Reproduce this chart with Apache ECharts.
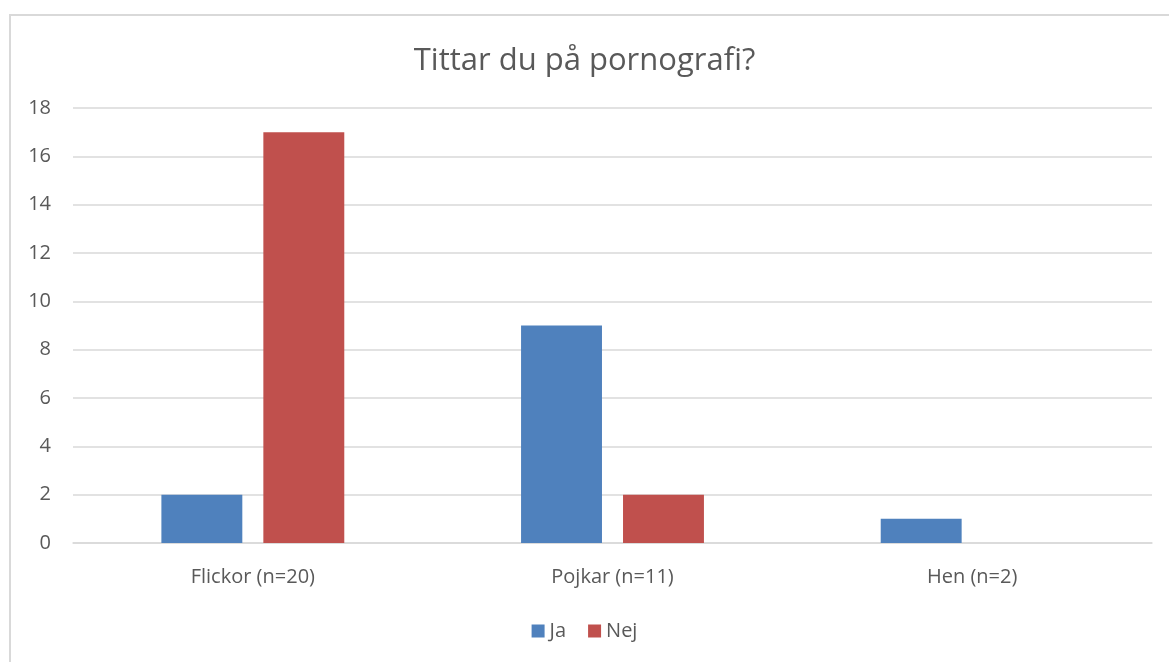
<!DOCTYPE html>
<html>
<head>
<meta charset="utf-8">
<script src="https://cdn.jsdelivr.net/npm/echarts@6/dist/echarts.min.js"></script>
<style>
  html, body { margin: 0; padding: 0; background: #fff; }
  #chart { width: 1169px; height: 662px; }
</style>
</head>
<body>
<div id="chart"></div>
<script>
const categories = ['Flickor (n=20)', 'Pojkar (n=11)', 'Hen (n=2)']
const jaValues = [2, 9, 1]
const nejValues = [17, 2, 0]

const chart = echarts.init(document.getElementById('chart'))
const font = 'Open Sans'

const option = {
  animation: false,
  graphic: [{
    type: 'rect',
    shape: { x: 10, y: 15, width: 1200, height: 700 },
    style: { fill: 'none', stroke: '#d9d9d9', lineWidth: 2 }
  }],
  title: {
    text: 'Tittar du på pornografi?',
    left: 'center',
    top: 41,
    textStyle: { fontFamily: font, fontSize: 31, fontWeight: 'normal', color: '#595959' }
  },
  legend: {
    bottom: 16,
    left: 'center',
    itemWidth: 13,
    itemHeight: 13,
    itemGap: 22,
    icon: 'rect',
    textStyle: { fontFamily: font, fontSize: 20, color: '#595959' },
    data: ['Ja', 'Nej']
  },
  grid: { left: 73, right: 17, top: 108, bottom: 119 },
  xAxis: {
    type: 'category',
    data: categories,
    axisLine: { show: true, lineStyle: { color: '#d9d9d9', width: 1.5 } },
    axisTick: { show: false },
    axisLabel: { fontFamily: font, fontSize: 20, color: '#595959', margin: 24 }
  },
  yAxis: {
    type: 'value',
    min: 0,
    max: 18,
    interval: 2,
    axisLine: { show: false },
    axisTick: { show: false },
    splitLine: { lineStyle: { color: '#d9d9d9', width: 1.5 } },
    axisLabel: { fontFamily: font, fontSize: 20, color: '#595959', margin: 22 }
  },
  series: [
    {
      name: 'Ja',
      type: 'bar',
      data: jaValues,
      barWidth: '22.5%',
      barGap: '26%',
      itemStyle: { color: '#4f81bd' }
    },
    {
      name: 'Nej',
      type: 'bar',
      data: nejValues,
      barWidth: '22.5%',
      itemStyle: { color: '#c0504d' }
    }
  ]
}

chart.setOption(option)
</script>
</body>
</html>
